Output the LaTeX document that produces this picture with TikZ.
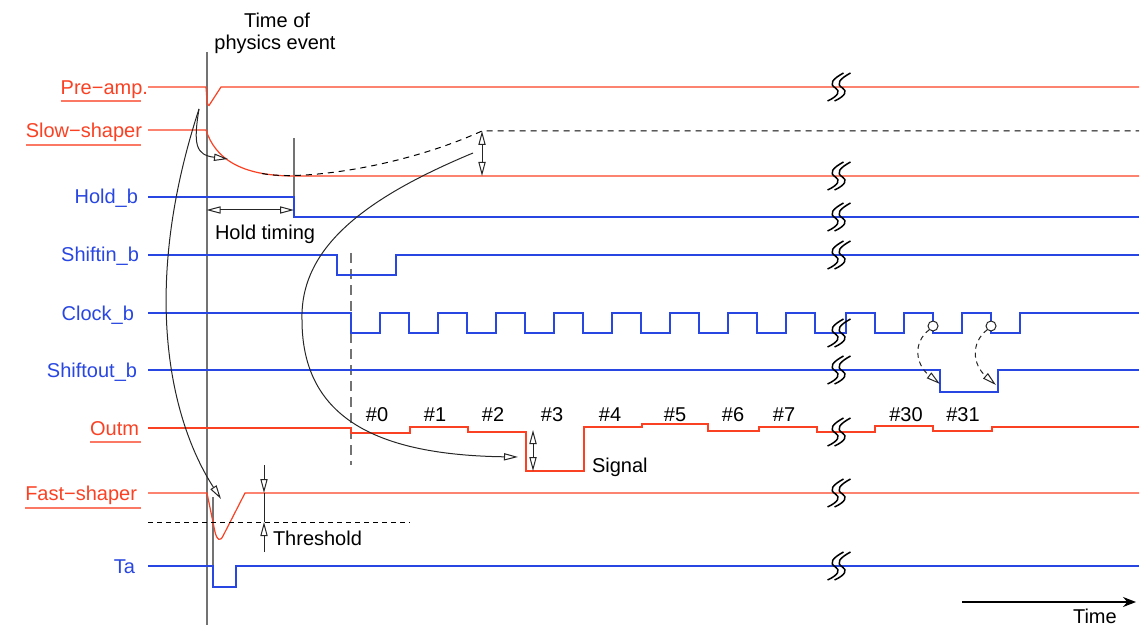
\documentclass[tikz,border=0pt]{standalone}
\usepackage{fontspec}
\setmainfont{Liberation Sans}
\usetikzlibrary{arrows.meta}
\definecolor{sigred}{RGB}{250,65,35}
\definecolor{sigblue}{RGB}{40,70,225}
\definecolor{ulred}{RGB}{250,120,100}
\definecolor{vgray}{RGB}{115,115,115}
\tikzset{
  every node/.style={font=\fontsize{10}{11}\selectfont, inner sep=0pt, outer sep=0pt},
  sred/.style={draw=sigred, line width=0.6pt},
  sblue/.style={draw=sigblue, line width=0.6pt},
  lblr/.style={text=sigred, anchor=base east},
  lblb/.style={text=sigblue, anchor=base east},
  ulstyle/.style={draw=ulred, line width=0.8pt},
  vline/.style={draw=vgray, line width=1pt},
  otip/.style={-{Triangle[open,length=7pt,width=3.6pt]}},
  dtip/.style={{Triangle[open,length=7pt,width=3.6pt]}-{Triangle[open,length=7pt,width=3.6pt]}},
  annot/.style={draw=black!85, line width=0.5pt},
  txt/.style={anchor=base west},
  num/.style={anchor=base},
  brk/.pic={
    \foreach \d in {-3.5,3.5}{
      \draw[black, line width=0.75pt]
        ({8+\d},-14) .. controls ({-3+\d},-8) and ({-7+\d},-3) .. ({0+\d},1)
        .. controls ({5+\d},4) and ({3+\d},9) .. ({-8+\d},14);
    }
  }
}
\begin{document}
\begin{tikzpicture}[x=0.5pt,y=-0.5pt]
\useasboundingbox (0,0) rectangle (1143,625);

% ---- title text
\node[num] (t1) at (277,28) {Time of};
\node[num] (t2) at (275,50) {physics event};

% ---- labels
\node[lblr] (pre)   at (148,95)  {Pre−amp.};
\node[lblr] (slow)  at (142,138) {Slow−shaper};
\node[lblb] (hold)  at (138,204) {Hold\_b};
\node[lblb] (shin)  at (139,262) {Shiftin\_b};
\node[lblb] (clk)   at (134,320) {Clock\_b};
\node[lblb] (shout) at (137,377) {Shiftout\_b};
\node[lblr] (outm)  at (139,435) {Outm};
\node[lblr] (fast)  at (137,500) {Fast−shaper};
\node[lblb] (ta)    at (135,573) {Ta};

\draw[ulstyle] (pre.west |- 0,101) -- (141,101);
\draw[ulstyle] (slow.west |- 0,145) -- (141,145);
\draw[ulstyle] (outm.west |- 0,442) -- (141,442);
\draw[ulstyle] (fast.west |- 0,508) -- (141,508);

% ---- gray verticals
\draw[vline] (206.5,52) -- (206.5,625);
\draw[vline] (294,138) -- (294,217);
\draw[vline] (213,497) -- (213,587);
\draw[draw=vgray, line width=0.8pt, dash pattern=on 5pt off 3pt] (351,253) -- (351,465);

% ---- Pre-amp
\draw[sred] (148,87) -- (206,87) .. controls (207,100) and (207,106) .. (209,105.5) -- (221,87) -- (1139,87);

% ---- Slow-shaper
\draw[sred] (148,130) -- (206,130) .. controls (215,158) and (240,176) .. (294,176) -- (1139,176);
\draw[black, line width=0.5pt, dash pattern=on 3pt off 2.5pt] (262,173.5) .. controls (300,181) and (400,168) .. (482,131) -- (1139,131);

% ---- Hold_b
\draw[sblue] (148,197) -- (294,197) -- (294,217) -- (1139,217);

% ---- Shiftin_b
\draw[sblue] (148,255) -- (337,255) -- (337,275) -- (396,275) -- (396,255) -- (1139,255);

% ---- Clock_b
\draw[sblue] (148,313) -- (351,313) -- (351,333)
  \foreach \k in {0,...,7}{ -- ++(29,0) -- ++(0,-20) -- ++(29,0) -- ++(0,20) }
  -- (846,333) -- (846,313) -- (875,313) -- (875,333) -- (904,333) -- (904,313)
  -- (933,313) -- (933,333) -- (962,333) -- (962,313) -- (991,313) -- (991,333)
  -- (1020,333) -- (1020,313) -- (1139,313);

% ---- Shiftout_b
\draw[sblue] (148,370) -- (940,370) -- (940,392) -- (998,392) -- (998,370) -- (1139,370);

% ---- Outm
\draw[sred] (148,428) -- (351,428) -- (351,433) -- (410,433) -- (410,427) -- (468,427)
  -- (468,432) -- (526,432) -- (526,471) -- (584,471) -- (584,427) -- (642,427)
  -- (642,424) -- (708,424) -- (708,431) -- (759,431) -- (759,427) -- (817,427)
  -- (817,432) -- (875,432) -- (875,426) -- (933,426) -- (933,431) -- (992,431)
  -- (992,427) -- (1139,427);
\node[num] (n0) at (377,421) {\#0};
\node[num] (n1) at (435,421) {\#1};
\node[num] (n2) at (493,421) {\#2};
\node[num] (n3) at (552,421) {\#3};
\node[num] (n4) at (610,421) {\#4};
\node[num] (n5) at (675,421) {\#5};
\node[num] (n6) at (733,421) {\#6};
\node[num] (n7) at (784,421) {\#7};
\node[num] (n30) at (906,421) {\#30};
\node[num] (n31) at (963,421) {\#31};

% ---- Fast-shaper
\draw[sred] (148,493) -- (207,493) -- (215,532) .. controls (217,540) and (220,542) .. (223,536) -- (245,493) -- (1139,493);
\draw[black, line width=0.5pt, dash pattern=on 2.5pt off 2pt] (148,522) -- (410,522);

% ---- Ta
\draw[sblue] (148,566) -- (213,566) -- (213,587) -- (236,587) -- (236,566) -- (1139,566);

% ---- annotations
\coordinate (src) at (199,109);
\coordinate (slowtip) at (228,159);
\coordinate (fasttip) at (221,499);
\draw[annot, otip] (src) .. controls (193,145) and (196,155) .. (slowtip);
\draw[annot, otip] (src) .. controls (140,290) and (170,420) .. (fasttip);

\coordinate (hA) at (206.5,210);
\coordinate (hB) at (294,210);
\draw[annot, dtip] (hA) -- (hB);
\node[txt] (holdt) at (215,240) {Hold timing};

\coordinate (pk) at (482,131);
\coordinate (pkb) at (482,176);
\draw[annot, dtip] (pk) -- (pkb);

\coordinate (cs) at (473,153);
\coordinate (ce) at (518,457);
\draw[annot, otip] (cs) .. controls (360,200) and (300,250) .. (302,320)
   .. controls (302,420) and (380,455) .. (ce);

\coordinate (sgA) at (533,430);
\coordinate (sgB) at (533,471);
\draw[annot, dtip] (sgA) -- (sgB);
\node[txt] (sig) at (592,472) {Signal};

\coordinate (thA) at (264,465);
\coordinate (thB) at (264,493);
\coordinate (thC) at (264,522);
\coordinate (thD) at (264,552);
\draw[annot, otip] (thA) -- (thB);
\draw[annot] (thB) -- (thC);
\draw[annot, otip] (thD) -- (thC);
\node[txt] (thr) at (273,545) {Threshold};

% ---- clock -> shiftout
\node[circle, draw=black!85, fill=white, line width=0.5pt, minimum size=5pt] (c1) at (933,326) {};
\node[circle, draw=black!85, fill=white, line width=0.5pt, minimum size=5pt] (c2) at (991,326) {};
\coordinate (d1) at (940,384);
\coordinate (d2) at (996,385);
\draw[annot, otip, dash pattern=on 2.5pt off 2pt] (c1.south west) .. controls (912,343) and (916,365) .. (d1);
\draw[annot, otip, dash pattern=on 2.5pt off 2pt] (c2.south west) .. controls (970,343) and (973,365) .. (d2);

% ---- break marks
\foreach \yy in {87,176,217,255,333,370,432,493,566}{
  \pic at (839,\yy) {brk};
}

% ---- time arrow
\coordinate (ta0) at (962,602);
\coordinate (ta1) at (1136,602);
\draw[black, line width=0.6pt, -{Stealth[length=6.5pt,width=5pt]}] (ta0) -- (ta1);
\node[txt] (timet) at (1073,623) {Time};
\end{tikzpicture}
\end{document}
